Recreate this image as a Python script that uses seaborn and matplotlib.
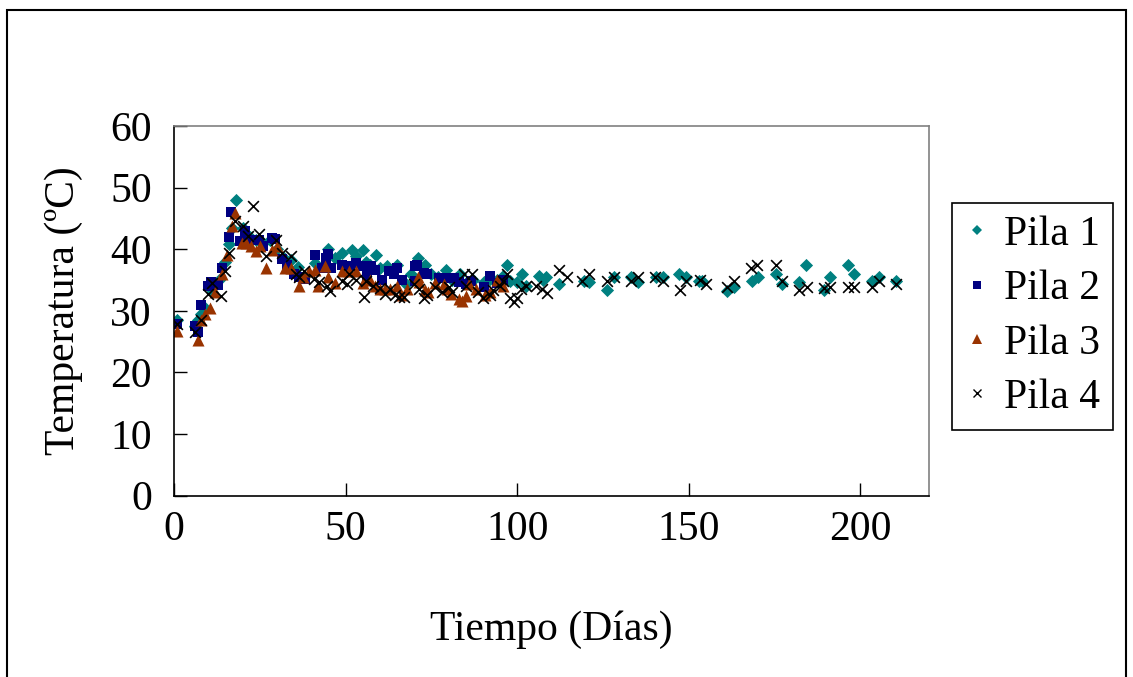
import matplotlib
matplotlib.use("Agg")
import pandas as pd
import matplotlib.pyplot as plt
import seaborn as sns
from matplotlib.lines import Line2D
from matplotlib.patches import Rectangle

# Temperature readings per pile
dias_p1 = [1, 6, 7, 8, 9, 11, 13, 15, 16, 17, 18, 20, 22, 24, 26, 28, 30, 32, 34, 36,
           38, 41, 44.8, 47, 49, 52, 53, 55, 56, 57, 59, 60, 62, 65, 67.5, 69, 71, 73, 75, 77,
           79.3, 81, 82.2, 83.2, 85, 87, 90.3, 92, 94, 96, 97.1, 98, 100, 101.3, 102.5, 106.4,
           107.5, 108.5, 112.2, 119.5, 120.9, 126.3, 128.2, 133.1, 135.2, 140.4, 142.6, 147.2,
           149.1, 153.1, 154, 161, 163.2, 168.3, 170.2, 175.4, 177.3, 182.2, 184.3, 189.3,
           191.2, 196.3, 198.2, 203.4, 205.5, 210.3]
temp_p1 = [28.5, 27.5, 28.5, 29.5, 30.5, 33, 35, 38, 40.8, 43.5, 48, 43.5, 42, 41.5, 41, 41.5,
           40, 38.5, 38.2, 37.1, 35.5, 37.8, 40, 38.5, 39.4, 39.8, 38.9, 39.8, 38, 37.5, 39, 37,
           37.3, 37.4, 34.3, 36, 38.6, 37.5, 36, 35.5, 36.6, 35, 35.4, 36, 34.5, 35, 34.6, 35.2,
           35, 35.6, 37.4, 34.8, 34.6, 36, 34, 35.6, 35, 35.5, 34.4, 34.9, 34.7, 33.3, 35.5,
           35.5, 34.7, 35.5, 35.5, 35.9, 35.5, 34.9, 34.9, 33.2, 33.9, 34.8, 35.5, 35.9, 34.4,
           34.6, 37.4, 33.3, 35.5, 37.4, 35.9, 34.8, 35.5, 34.8]

dias_p2 = [1, 6, 7, 8, 10, 10.8, 12.8, 13.9, 15.9, 16.5, 19.3, 20.8, 22, 24.7, 26, 28.5, 29.5,
           31.4, 33, 35, 36.5, 38.3, 41, 43, 44.2, 44.8, 45.8, 49, 51.4, 53, 55, 57.3, 56.3,
           58.7, 60.5, 62.6, 64, 65, 66.3, 70.2, 70.2, 70.9, 72.8, 73.8, 77.2, 79.5, 81.7, 83,
           85, 86.4, 90.3, 92, 94, 96]
temp_p2 = [27.9, 27.5, 26.5, 31, 34, 34.6, 34.2, 37, 41.9, 46, 41.3, 42.9, 41.5, 41.5, 40.5,
           41.8, 41.6, 38.4, 37.5, 36, 35.5, 35.1, 39.1, 37, 38.6, 39.2, 37, 37.5, 37.3, 37.8,
           37.3, 37.3, 35.6, 36.7, 35, 36.5, 36, 37, 35, 34.8, 37.2, 37.5, 36.2, 35.9, 35.4,
           35.4, 35.4, 34.6, 34.4, 34.8, 33.8, 35.6, 34.5, 35]

dias_p3 = [1, 7.1, 8, 9, 10.5, 12, 14, 15.5, 16.9, 17.8, 19.7, 21, 22.5, 23.9, 25, 26.9, 28.5,
           30, 32.4, 34, 36.4, 37.5, 39.3, 41.2, 42, 44, 45, 47, 49, 51, 53, 55, 57, 58.7, 60,
           61.5, 63, 65, 66, 68, 71, 71.5, 73.2, 74.1, 76, 78.7, 79.6, 80.6, 83, 84, 85, 86, 88,
           90.6, 92, 94, 96]
temp_p3 = [26.8, 25.3, 28.5, 29.5, 30.5, 33, 36, 39, 43.7, 45.9, 41, 41, 40.5, 39.7, 40.5,
           36.9, 39.8, 40.5, 37, 37, 34, 35.5, 36.4, 36.7, 34, 37.3, 35.5, 34.5, 36.4, 36.4,
           36.4, 34.5, 35, 34, 33.5, 33.5, 33.5, 34, 32.5, 33.5, 35.5, 34.6, 33.3, 33, 34.5,
           34.3, 33.5, 32.7, 31.9, 31.6, 32.4, 34.3, 33.5, 32.5, 33, 35, 34]

dias_p4 = [1, 6.2, 8, 9.9, 11, 13.8, 14.9, 15.9, 17.8, 20, 21.7, 22.9, 24.8, 26.9, 29.7, 31.4,
           34.2, 35.5, 36.5, 38, 40.8, 42.2, 44.7, 45.6, 49, 50.5, 51, 53, 55.3, 56, 58, 60,
           61.5, 63, 64.5, 65.5, 67, 70, 71.5, 72.8, 73.8, 76, 78, 80, 81, 84.5, 86.9, 85, 88.5,
           90, 92, 93, 95, 96, 97.1, 98, 99, 100, 101, 102.5, 105.4, 107.3, 108.8, 112.2,
           114.4, 119, 120.9, 126.3, 128.2, 133.1, 135.2, 140.2, 142.6, 147.5, 149.1, 153.3,
           155, 161, 163.2, 168.1, 170, 175.4, 177.3, 182.2, 184.4, 189.3, 191.2, 196.3, 198.2,
           203.4, 205.5, 210.3]
temp_p4 = [27.9, 26.5, 28.5, 32.7, 34.5, 32.4, 36.4, 39.4, 44.5, 43.7, 42.1, 47, 42.4, 38.9,
           41.5, 39.4, 38.9, 36, 35.5, 36.5, 35.1, 34.6, 34, 33.2, 34.8, 34.3, 36, 35, 32.2,
           34.8, 34, 33.7, 32.8, 33.5, 32.5, 32.2, 32.2, 34.3, 33.5, 32.1, 32.6, 33.8, 33, 33.8,
           33, 35.9, 35.9, 34, 33, 32, 32.5, 33.3, 34, 34.8, 35.9, 32.1, 31.5, 32.1, 33.5, 34,
           34, 33.5, 32.9, 36.6, 35.5, 34.9, 35.9, 34.8, 35.5, 34.9, 35.5, 35.5, 34.9, 33.3,
           34.9, 35, 34.4, 33.9, 34.8, 37, 37.4, 37.4, 34.8, 33.3, 33.8, 33.7, 33.8, 33.8, 33.8,
           33.8, 34.9, 34.4]

pilas = ["Pila 1", "Pila 2", "Pila 3", "Pila 4"]
colores = {"Pila 1": "#008080", "Pila 2": "#000080", "Pila 3": "#993300", "Pila 4": "#000000"}
marcadores = {"Pila 1": "D", "Pila 2": "s", "Pila 3": "^", "Pila 4": "x"}

frames = []
for nombre, d, t in zip(pilas, [dias_p1, dias_p2, dias_p3, dias_p4],
                        [temp_p1, temp_p2, temp_p3, temp_p4]):
    frames.append(pd.DataFrame({"dia": d, "temp": t, "pila": nombre}))
df = pd.concat(frames, ignore_index=True)

sns.set_style("white")
plt.rcParams["font.family"] = ["Liberation Serif", "DejaVu Serif"]
plt.rcParams["text.color"] = "black"
plt.rcParams["axes.labelcolor"] = "black"
plt.rcParams["xtick.color"] = "black"
plt.rcParams["ytick.color"] = "black"

FS = 30

fig = plt.figure(figsize=(11.33, 6.77), dpi=100)
ax = fig.add_axes([174 / 1133, 1 - 495.6 / 677, 755 / 1133, 369.6 / 677])

sizes = {"Pila 1": 45, "Pila 2": 50, "Pila 3": 75, "Pila 4": 60}
for nombre in pilas:
    sub = df[df["pila"] == nombre]
    sns.scatterplot(
        data=sub, x="dia", y="temp", ax=ax,
        color=colores[nombre], marker=marcadores[nombre], s=sizes[nombre],
        linewidth=1.2 if nombre == "Pila 4" else 0,
        legend=False,
    )

ax.set_xlim(0, 220)
ax.set_ylim(0, 60)
ax.set_xticks([0, 50, 100, 150, 200])
ax.set_yticks([0, 10, 20, 30, 40, 50, 60])
ax.tick_params(axis="both", direction="in", length=9.5, width=1, colors="black",
               labelsize=FS)
ax.tick_params(axis="y", pad=16, left=True)
ax.tick_params(axis="x", pad=11, bottom=True)

for side in ["left", "bottom"]:
    ax.spines[side].set_color("black")
    ax.spines[side].set_linewidth(1.2)
for side in ["top", "right"]:
    ax.spines[side].set_color("#808080")
    ax.spines[side].set_linewidth(1.2)

ax.set_xlabel("Tiempo (Días)", fontsize=FS)
ax.set_ylabel("Temperatura (ºC)", fontsize=FS)
ax.xaxis.set_label_coords(0.5, -0.31)
ax.yaxis.set_label_coords(-0.12, 0.5)

handles = [
    Line2D([], [], linestyle="none", marker=marcadores[n], color=colores[n],
           markersize=5.5 if n != "Pila 3" else 6.5,
           markeredgewidth=1 if n == "Pila 4" else 0)
    for n in pilas
]
leg = ax.legend(
    handles, pilas, loc="upper left",
    bbox_to_anchor=(952 / 1133, 1 - 203 / 677), bbox_transform=fig.transFigure,
    fontsize=FS, frameon=True, fancybox=False, framealpha=1,
    edgecolor="black", handlelength=0.6, handletextpad=0.35,
    labelspacing=0.38, borderpad=0.3, borderaxespad=0,
)
leg.get_frame().set_linewidth(1.2)

# outer chart border (bottom edge falls just outside the canvas)
fig.patches.append(Rectangle((7 / 1133, -2 / 677), 1119 / 1133, 669 / 677,
                             transform=fig.transFigure, fill=False,
                             edgecolor="black", linewidth=1.5))

fig.savefig("out.png", dpi=100)
plt.close(fig)
